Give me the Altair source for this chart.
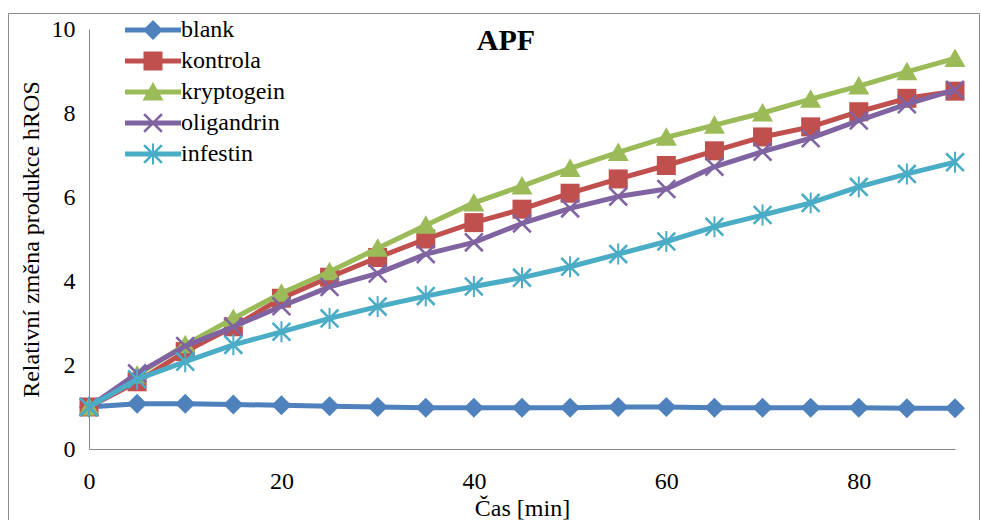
import altair as alt
import pandas as pd

# Time points (minutes) and relative hROS production per treatment
minutes = [0, 5, 10, 15, 20, 25, 30, 35, 40, 45, 50, 55, 60, 65, 70, 75, 80, 85, 90]
series_names = ["blank", "kontrola", "kryptogein", "oligandrin", "infestin"]

blank = [1.00, 1.08, 1.08, 1.06, 1.04, 1.02, 1.00, 0.98, 0.98, 0.98, 0.98, 1.00,
         1.00, 0.98, 0.98, 0.98, 0.98, 0.97, 0.97]
kontrola = [1.00, 1.60, 2.32, 2.91, 3.59, 4.09, 4.56, 5.00, 5.39, 5.71, 6.09, 6.43,
            6.75, 7.10, 7.43, 7.67, 8.03, 8.35, 8.52]
kryptogein = [1.00, 1.76, 2.48, 3.11, 3.71, 4.22, 4.78, 5.33, 5.86, 6.26, 6.68, 7.06,
              7.42, 7.71, 8.00, 8.33, 8.64, 8.98, 9.30]
oligandrin = [1.00, 1.80, 2.45, 2.91, 3.40, 3.86, 4.18, 4.64, 4.92, 5.37, 5.73, 6.01,
              6.19, 6.72, 7.08, 7.40, 7.82, 8.21, 8.55]
infestin = [1.00, 1.66, 2.08, 2.48, 2.79, 3.11, 3.39, 3.64, 3.87, 4.08, 4.34, 4.64,
            4.94, 5.29, 5.57, 5.86, 6.24, 6.55, 6.83]

series_values = [blank, kontrola, kryptogein, oligandrin, infestin]
colors = ["#4F81BD", "#C0504D", "#9BBB59", "#8064A2", "#4BACC6"]

# Marker outlines as filled SVG paths (unit box -1..1)
DIAMOND = "M0,-1L1,0L0,1L-1,0Z"
SQUARE = "M-0.95,-0.95L0.95,-0.95L0.95,0.95L-0.95,0.95Z"
TRIANGLE = "M0,-1L1.05,0.85L-1.05,0.85Z"
XMARK = ("M-0.8,-0.98L0.98,0.8L0.8,0.98L-0.98,-0.8Z"
         "M-0.98,0.8L0.8,-0.98L0.98,-0.8L-0.8,0.98Z")
STAR = XMARK + "M-0.1,-1.05L0.1,-1.05L0.1,1.05L-0.1,1.05Z"
markers = [DIAMOND, SQUARE, TRIANGLE, XMARK, STAR]

# Legend keys: a short line segment behind each marker
SEGMENT = "M-2.8,-0.25L2.8,-0.25L2.8,0.25L-2.8,0.25Z"
legend_shapes = [SEGMENT + m for m in markers]

rows = []
for name, vals in zip(series_names, series_values):
    for t, v in zip(minutes, vals):
        rows.append({"minute": t, "value": v, "series": name, "key": name})
df = pd.DataFrame(rows)

FONT = "Liberation Serif"
AXIS_GRAY = "#868686"
MARKER_SIZE = 400

x_enc = alt.X(
    "minute:Q",
    scale=alt.Scale(domain=[0, 90], nice=False, zero=False),
    axis=alt.Axis(
        values=[0, 20, 40, 60, 80], title="Čas [min]", grid=False, ticks=False,
        tickSize=0, labelPadding=20, labelFlush=False,
        titleBaseline="alphabetic", titleY=66, titleAnchor="middle",
    ),
)
y_enc = alt.Y(
    "value:Q",
    scale=alt.Scale(domain=[0, 10], nice=False),
    axis=alt.Axis(
        values=[0, 2, 4, 6, 8, 10], title="Relativní  změna produkce  hROS",
        grid=False, ticks=False, tickSize=0, labelPadding=14, labelFlush=False,
        titleAngle=270, titleBaseline="alphabetic", titleAlign="center",
        titleX=-51, titleY=210,
    ),
)

base = alt.Chart(df)

# Outer chart frame
frame = alt.Chart(alt.Data(values=[{}])).mark_rect(
    fill="transparent", stroke="#8c8c8c", strokeWidth=1
).encode(
    x=alt.value(-80.5), x2=alt.value(890.5), y=alt.value(-15.5), y2=alt.value(530)
)

# Chart heading placed inside the plot area
heading = alt.Chart(alt.Data(values=[{}])).mark_text(
    text="APF", font=FONT, fontSize=30, fontWeight="bold", color="black",
    align="center", baseline="alphabetic",
).encode(x=alt.value(417), y=alt.value(21))

layers = [frame]
for name, color, shape in zip(series_names, colors, markers):
    sub = base.transform_filter(alt.datum.series == name)
    layers.append(
        sub.mark_line(color=color, strokeWidth=5, strokeJoin="round").encode(
            x=x_enc, y=y_enc
        )
    )
    layers.append(
        sub.mark_point(shape=shape, filled=True, color=color, size=MARKER_SIZE,
                       opacity=1).encode(x=x_enc, y=y_enc)
    )

# Zero-sized points that only carry the legend (line + marker keys)
legend_layer = base.mark_point(filled=True, size=0, strokeWidth=0, opacity=1).encode(
    x=x_enc,
    y=y_enc,
    color=alt.Color(
        "key:N",
        scale=alt.Scale(domain=series_names, range=colors),
        legend=alt.Legend(
            orient="none", legendX=52, legendY=-11, title=None, padding=0,
            symbolSize=MARKER_SIZE, symbolStrokeWidth=0, symbolOpacity=1,
            labelFont=FONT, labelFontSize=24, labelColor="black",
            labelOffset=16, rowPadding=7,
        ),
    ),
    shape=alt.Shape(
        "key:N",
        scale=alt.Scale(domain=series_names, range=legend_shapes),
    ),
)
layers.append(legend_layer)
layers.append(heading)

chart = alt.layer(*layers).resolve_scale(
    color="independent", shape="independent"
).properties(
    width=866,
    height=420,
    background="white",
    autosize=alt.AutoSizeParams(type="none"),
    padding={"left": 89, "top": 29, "right": 26, "bottom": 71},
).configure_view(stroke=None).configure_axis(
    domainColor=AXIS_GRAY, domainWidth=1, labelFont=FONT, labelFontSize=24,
    labelColor="black", titleFont=FONT, titleFontSize=24, titleColor="black",
    titleFontWeight="normal",
)

chart.save("out.html", embed_options={"renderer": "svg", "actions": False})
